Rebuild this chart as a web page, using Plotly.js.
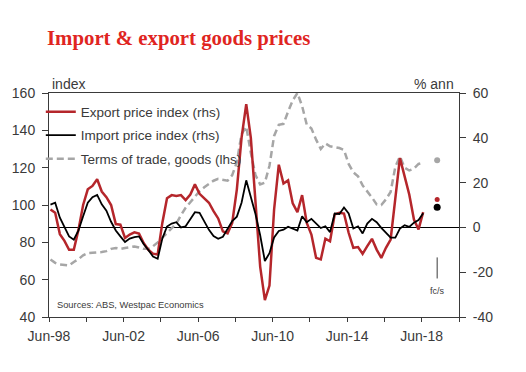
<!DOCTYPE html>
<html><head><meta charset="utf-8">
<script src="https://cdn.plot.ly/plotly-3.0.1.min.js"></script>
<style>html,body{margin:0;padding:0;background:#fff;}#chart{width:526px;height:372px;}</style>
</head><body><div id="chart"></div>
<script>
// Quarterly data, first quarter Jun-98, last Jun-18
const exportPrice = [8, 6.5, -3, -6, -10, -10, -1, 10, 17, 18.5, 21.5, 16, 13.5, 10, 1.5, 1.2, -4.7, -3.2, -2.2, -2.7,
  -7, -10, -11.7, -12.1, 2, 13, 14.4, 14, 14.4, 12.2, 14.7, 19.2, 15, 12.9, 11, 7.3, 4, -1.8, -2.7, 2,
  17, 40, 55, 40, 11, -17.5, -32.5, -26, 8, 28, 19.6, 21, 10.7, 6.8, 14.4, 2, -3.2, -13.6, -14.3, -5,
  -6.2, 5.8, 6.5, 6.2, -2.4, -9.1, -8.8, -11.8, -8.4, -5.1, -9.9, -13.6, -9.1, -5.4, 13, 31, 22.9, 14.7, 3.5, -0.9, 6.8];
const importPrice = [10.2, 11, 4.3, 0, -4, -5.5, -1.3, 5, 11, 13.5, 14.5, 10.3, 7.5, 2.5, -1.4, -4, -6.5, -5, -4.3, -4,
  -7.4, -10.1, -13, -14, -5, 0.4, 1.7, 2.3, 0, 0.5, 4, 6.8, 6.5, 2.5, -1.1, -3.9, -5.1, -4.2, -0.9, 2.8,
  4.8, 11, 21, 14, 6, -3.5, -15, -11.5, -4.5, -1.6, -1, 0.3, -0.6, -1.4, 5, 2.3, 3.8, 1.7, -0.3, 0.5,
  -2.1, 6.2, 6, 8.9, 6.2, -0.5, 0.5, -2.7, 1.7, 3.8, 2.3, -0.2, -2.4, -4.6, -4.6, -0.5, 1, 0.2, 2.1, 3.3, 6.3];
const termsOfTrade = [70.8, 69, 68.1, 68, 67.6, 69.5, 71, 73, 74.2, 74.4, 74.4, 74.8, 75.3, 76.5, 77, 76.5, 77, 77.5, 77.8, 77.2,
  76.5, 76.5, 77.9, 80, 82.5, 85.5, 87.5, 90, 94.5, 98.5, 101.5, 104.5, 107.4, 109.5, 111.5, 113, 114, 113.5, 113, 116,
  123, 138, 142, 128, 116, 111, 112, 121, 137, 143, 143.5, 150, 156, 160, 153, 143, 141, 135, 130, 133,
  131.5, 131, 130.5, 129.5, 122, 117.5, 115.4, 110.5, 107.5, 104, 100.3, 100, 103, 107, 120.5, 126, 120, 118.5, 119.5, 122, 122.6];
const forecastDate = ['2019-03-31'];
const forecastExport = [12.5];
const forecastImport = [9];
const forecastTot = [124];
const tickDates = ['1998-06-01','2000-06-01','2002-06-01','2004-06-01','2006-06-01','2008-06-01',
  '2010-06-01','2012-06-01','2014-06-01','2016-06-01','2018-06-01','2020-06-01'];
const tickLabels = ['Jun-98','','Jun-02','','Jun-06','','Jun-10','','Jun-14','','Jun-18',''];
const leftTicks = [40, 60, 80, 100, 120, 140, 160];
const rightTicks = [-40, -20, 0, 20, 40, 60];
const rightTickText = ['-40', '-20', '0', '20', '40', '60'];

const quarterEnds = {3: '03-31', 6: '06-30', 9: '09-30', 12: '12-31'};
const dates = exportPrice.map((_, i) => {
  const m = 6 + 3 * i;
  const y = 1998 + Math.floor((m - 1) / 12);
  const mm = ((m - 1) % 12) + 1;
  return y + '-' + quarterEnds[mm];
});

const axisCol = '#3a3a3a';
const redCol = '#b5262b';
const traces = [
  {x: dates, y: termsOfTrade, yaxis: 'y', name: 'Terms of trade, goods (lhs)', mode: 'lines',
   line: {color: '#a6a6a6', width: 2.5, dash: '7px,4px'}, legendrank: 3, legendgroup: 'c'},
  {x: dates, y: exportPrice, yaxis: 'y2', name: 'Export price index (rhs)', mode: 'lines',
   line: {color: redCol, width: 2.5}, legendrank: 1, legendgroup: 'a'},
  {x: dates, y: importPrice, yaxis: 'y2', name: 'Import price index (rhs)', mode: 'lines',
   line: {color: '#000000', width: 1.8}, legendrank: 2, legendgroup: 'b'},
  {x: forecastDate, y: forecastTot, yaxis: 'y', mode: 'markers', showlegend: false,
   marker: {color: '#a6a6a6', size: 6}},
  {x: forecastDate, y: forecastExport, yaxis: 'y2', mode: 'markers', showlegend: false,
   marker: {color: redCol, size: 5}},
  {x: forecastDate, y: forecastImport, yaxis: 'y2', mode: 'markers', showlegend: false,
   marker: {color: '#000000', size: 7}}
];

const layout = {
  width: 526, height: 372,
  margin: {l: 49, r: 67, t: 93, b: 55, pad: 0},
  paper_bgcolor: '#ffffff', plot_bgcolor: '#ffffff',
  font: {family: 'Liberation Sans, Arial, sans-serif', size: 14, color: axisCol},
  title: {text: 'Import & export goods prices', xref: 'container', x: 47 / 526, xanchor: 'left',
    yref: 'container', y: 1 - 38 / 372, yanchor: 'middle',
    font: {family: 'Liberation Serif, Times New Roman, serif', size: 20.8, color: '#e0251f', weight: 'bold'}},
  showlegend: true,
  legend: {x: -0.02, y: 0.985, xanchor: 'left', yanchor: 'top', bgcolor: 'rgba(0,0,0,0)',
    borderwidth: 0, font: {size: 13.5, color: axisCol}, itemwidth: 30, traceorder: 'grouped',
    tracegroupgap: 3},
  xaxis: {type: 'date', range: ['1998-06-01', '2020-06-01'], tickmode: 'array', tickvals: tickDates,
    ticktext: tickLabels, ticks: 'outside', ticklen: 4, tickcolor: axisCol, showline: true,
    linecolor: axisCol, linewidth: 1, mirror: true, showgrid: false, zeroline: false,
    tickfont: {size: 14, color: axisCol}, ticklabelstandoff: 2},
  yaxis: {range: [40, 160], tickmode: 'array', tickvals: leftTicks, ticks: 'outside', ticklen: 6,
    tickcolor: axisCol, showline: true, linecolor: axisCol, linewidth: 1, showgrid: false, zeroline: false,
    tickfont: {size: 14, color: axisCol}, ticklabelstandoff: 4},
  yaxis2: {overlaying: 'y', side: 'right', range: [-40, 60], tickmode: 'array', tickvals: rightTicks,
    ticktext: rightTickText, ticks: 'outside', ticklen: 6, tickcolor: axisCol, showline: true,
    linecolor: axisCol, linewidth: 1, showgrid: false, zeroline: true, zerolinecolor: '#000000',
    zerolinewidth: 1, tickfont: {size: 14, color: axisCol}, ticklabelstandoff: 4},
  annotations: [
    {text: 'index', xref: 'paper', yref: 'paper', x: 0.002, y: 1.042, xanchor: 'left', yanchor: 'middle',
     showarrow: false, font: {size: 14, color: axisCol}},
    {text: '% ann', xref: 'paper', yref: 'paper', x: 0.992, y: 1.042, xanchor: 'right', yanchor: 'middle',
     showarrow: false, font: {size: 14, color: axisCol}},
    {text: 'Sources: ABS, Westpac Economics', xref: 'paper', yref: 'paper', x: 0.015, y: 0.054,
     xanchor: 'left', yanchor: 'middle', showarrow: false, font: {size: 9.3, color: axisCol}},
    {text: 'fc/s', xref: 'x', yref: 'y2', x: forecastDate[0], y: -28.5, xanchor: 'center', yanchor: 'middle',
     showarrow: false, font: {size: 9, color: axisCol}}
  ],
  shapes: [
    {type: 'line', xref: 'x', yref: 'y2', x0: forecastDate[0], x1: forecastDate[0], y0: -13.4, y1: -22.8,
     line: {color: axisCol, width: 1}}
  ]
};

Plotly.newPlot('chart', traces, layout, {displayModeBar: false, staticPlot: true});
</script>
</body></html>
